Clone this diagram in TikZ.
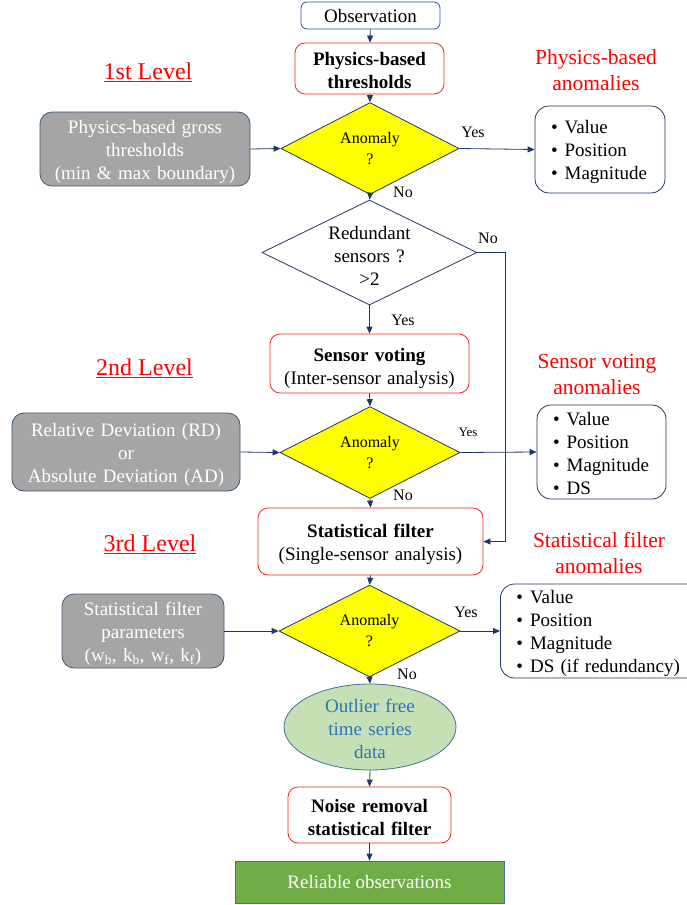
\documentclass[tikz,border=0pt]{standalone}
\usepackage{fontspec}
\setmainfont{Liberation Serif}
\usetikzlibrary{shapes.geometric,arrows.meta}
\definecolor{navy}{HTML}{203864}
\definecolor{boxblue}{HTML}{2F5597}
\definecolor{redb}{HTML}{FF2020}
\definecolor{grayf}{HTML}{A5A5A5}
\definecolor{grayb}{HTML}{3C5A78}
\definecolor{ylw}{HTML}{FFFF00}
\definecolor{elf}{HTML}{C5E0B4}
\definecolor{elb}{HTML}{41719C}
\definecolor{elt}{HTML}{2E75B6}
\definecolor{grn}{HTML}{70AD47}
\tikzset{
  base/.style={font=\fontsize{19}{23}\selectfont, align=center, inner sep=0pt},
  ml/.style={execute at begin node={\rule{0pt}{#1}}, execute at end node={\rule[-4pt]{0pt}{4pt}}},
  st/.style={execute at begin node={\rule{0pt}{#1}}},
  redbox/.style={base, draw=redb, line width=0.8pt, rounded corners=10pt, fill=white},
  graybox/.style={base, st=19pt, draw=grayb, line width=0.8pt, fill=grayf, text=white, rounded corners=12pt},
  bullbox/.style={base, ml=19pt, draw=navy, line width=0.8pt, rounded corners=14pt, align=left, inner xsep=16pt},
  dia/.style={diamond, draw=navy, line width=0.8pt, inner sep=0pt, align=center},
  ydia/.style={dia, fill=ylw, font=\fontsize{16}{21}\selectfont},
  arr/.style={draw=navy, line width=0.8pt, -{Triangle[length=7pt,width=6pt]}},
  lbl/.style={font=\fontsize{16}{19}\selectfont, inner sep=0pt},
  lvl/.style={font=\fontsize{24}{28}\selectfont, text=red, inner sep=0pt},
  anh/.style={font=\fontsize{21.5}{26}\selectfont, text=red, align=center, inner sep=0pt},
}
\begin{document}
\begin{tikzpicture}[x=1pt,y=-1pt]
\useasboundingbox[fill=white] (0,0) rectangle (686,905);

% main column
\node[base, draw=boxblue, line width=0.8pt, rounded corners=6pt, minimum width=139pt, minimum height=27pt] (obs) at (370.5,15.5) {Observation};
\node[redbox, st=17pt, text width=140pt, font=\fontsize{19}{23}\selectfont\bfseries, minimum width=149pt, minimum height=51pt] (pbt) at (369.5,68.5) {Physics-based\\thresholds};
\node[ydia, minimum width=178pt, minimum height=73pt] (d1) at (370,148.5) {Anomaly\\?};
\node[dia, st=20pt, text width=100pt, aspect=2, fill=white, font=\fontsize{19}{23}\selectfont, minimum width=215pt, minimum height=105pt, inner sep=-12pt] (d2) at (369.5,252.5) {Redundant\\sensors ?\\>2};
\node[redbox, st=23pt, text width=190pt, minimum width=199pt, minimum height=59pt] (sv) at (369.5,363.5) {\textbf{Sensor voting}\\(Inter-sensor analysis)};
\node[ydia, minimum width=180pt, minimum height=79pt] (d3) at (370,452.5) {Anomaly\\?};
\node[redbox, st=20pt, text width=215pt, minimum width=225pt, minimum height=67pt] (sf) at (370.5,541.5) {\textbf{Statistical filter}\\(Single-sensor analysis)};
\node[ydia, minimum width=181pt, minimum height=78pt] (d4) at (369.5,631) {Anomaly\\?};
\node[ellipse, base, st=17pt, text width=110pt, draw=elb, line width=0.8pt, fill=elf, text=elt, minimum width=172pt, minimum height=86pt, inner sep=-10pt] (ofd) at (370,727) {Outlier free\\time series\\data};
\node[redbox, st=19pt, text width=155pt, font=\fontsize{19}{23}\selectfont\bfseries, minimum width=163pt, minimum height=56pt] (nr) at (369.5,815) {Noise removal\\statistical filter};
\node[base, draw=elb, line width=0.8pt, fill=grn, text=white, minimum width=269pt, minimum height=42pt] (ro) at (369.5,882) {Reliable observations};

% gray inputs
\node[graybox, text width=200pt, minimum width=210pt, minimum height=74pt] (g1) at (145,149) {Physics-based gross\\thresholds\\(min \& max boundary)};
\node[graybox, text width=220pt, minimum width=228pt, minimum height=78pt] (g2) at (126,452) {Relative Deviation (RD)\\or\\Absolute Deviation (AD)};
\node[graybox, text width=155pt, minimum width=162pt, minimum height=74pt] (g3) at (143,631) {Statistical filter\\parameters\\(w\textsubscript{b}, k\textsubscript{b}, w\textsubscript{f}, k\textsubscript{f})};

% bullet boxes
\node[bullbox, text width=98pt, minimum height=87pt] (b1) at (600,149.5) {\textbullet\hspace{7pt}Value\\\textbullet\hspace{7pt}Position\\\textbullet\hspace{7pt}Magnitude};
\node[bullbox, text width=97pt, minimum height=94pt] (b2) at (601.5,452) {\textbullet\hspace{7pt}Value\\\textbullet\hspace{7pt}Position\\\textbullet\hspace{7pt}Magnitude\\\textbullet\hspace{7pt}DS};
\node[bullbox, text width=178pt, minimum height=94pt, anchor=west] (b3) at (500,631) {\textbullet\hspace{7pt}Value\\\textbullet\hspace{7pt}Position\\\textbullet\hspace{7pt}Magnitude\\\textbullet\hspace{7pt}DS (if redundancy)};

% level titles
\node[lvl] (l1) at (148,72) {\underline{1st Level}};
\node[lvl] (l2) at (144.5,368) {\underline{2nd Level}};
\node[lvl] (l3) at (150,544) {\underline{3rd Level}};
\node[anh] (a1) at (596,70) {Physics-based\\anomalies};
\node[anh] (a2) at (597,374) {Sensor voting\\anomalies};
\node[anh] (a3) at (599,553.5) {Statistical filter\\anomalies};

% connectors
\draw[arr] (obs) -- (pbt);
\draw[arr] (pbt) -- (d1.north);
\draw[arr] (d1.east) -- (b1.west);
\draw[arr] (g1.east) -- (d1.west);
\draw[arr] (d1.south) -- (d2.north);
\draw[arr] (d2.east) -- ++(28,0) |- (sf.east);
\draw[arr] (d2.south) -- (sv.north);
\draw[arr] (sv.south) -- (d3.north);
\draw[arr] (g2.east) -- (d3.west);
\draw[arr] (d3.east) -- (b2.west);
\draw[arr] (d3.south) -- (sf.north);
\draw[arr] (sf.south) -- (d4.north);
\draw[arr] (g3.east) -- (d4.west);
\draw[arr] (d4.east) -- (b3.west);
\draw[arr] (d4.south) -- (ofd.north);
\draw[arr] (ofd.south) -- (nr.north);
\draw[arr] (nr.south) -- (ro.north);

% edge labels
\node[lbl] (y1) at (473,132) {Yes};
\node[lbl] (n1) at (403,192) {No};
\node[lbl] (n2) at (488,238) {No};
\node[lbl] (y2) at (403,320) {Yes};
\node[lbl, font=\fontsize{13}{16}\selectfont] (y3) at (468,432) {Yes};
\node[lbl] (n3) at (403,495) {No};
\node[lbl] (y4) at (466,612) {Yes};
\node[lbl] (n4) at (407,674) {No};
\end{tikzpicture}
\end{document}
